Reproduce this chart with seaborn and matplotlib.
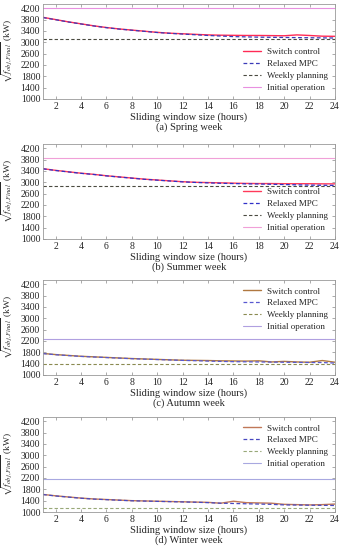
import numpy as np
import pandas as pd
import matplotlib
matplotlib.use("Agg")
import matplotlib.pyplot as plt
import seaborn as sns

hours = list(range(1, 25))

spring_switch = [3880, 3800, 3720, 3650, 3580, 3520, 3470, 3430, 3390, 3350, 3320, 3300,
                 3280, 3260, 3250, 3245, 3240, 3240, 3235, 3230, 3260, 3240, 3215, 3210]
spring_relaxed = [3870, 3795, 3715, 3645, 3575, 3515, 3465, 3425, 3385, 3345, 3315, 3290,
                  3265, 3240, 3220, 3200, 3190, 3180, 3175, 3170, 3165, 3160, 3155, 3150]
spring_weekly = 3130
spring_initial = 4215

summer_switch = [3480, 3420, 3370, 3320, 3280, 3230, 3190, 3150, 3110, 3080, 3050, 3020,
                 3000, 2990, 2980, 2970, 2960, 2955, 2955, 2950, 2950, 2950, 2945, 2945]
summer_relaxed = [3475, 3415, 3365, 3315, 3275, 3225, 3185, 3145, 3105, 3075, 3045, 3015,
                  2995, 2980, 2965, 2955, 2945, 2940, 2930, 2920, 2910, 2900, 2895, 2890]
summer_weekly = 2870
summer_initial = 3860

autumn_switch = [1760, 1720, 1690, 1660, 1640, 1620, 1600, 1580, 1565, 1550, 1535, 1520,
                 1515, 1510, 1500, 1495, 1490, 1500, 1460, 1480, 1460, 1450, 1510, 1450]
autumn_relaxed = [1755, 1715, 1685, 1655, 1635, 1615, 1595, 1575, 1560, 1545, 1530, 1515,
                  1505, 1490, 1480, 1470, 1465, 1460, 1455, 1450, 1445, 1440, 1440, 1420]
autumn_weekly = 1375
autumn_initial = 2280

winter_switch = [1620, 1570, 1530, 1490, 1460, 1440, 1420, 1400, 1390, 1380, 1370, 1360,
                 1350, 1340, 1310, 1380, 1330, 1320, 1310, 1270, 1260, 1250, 1260, 1280]
winter_relaxed = [1615, 1565, 1525, 1485, 1455, 1435, 1415, 1395, 1385, 1375, 1365, 1355,
                  1345, 1330, 1310, 1300, 1290, 1280, 1270, 1250, 1245, 1240, 1235, 1230]
winter_weekly = 1150
winter_initial = 2180

series_names = ["Switch control", "Relaxed MPC", "Weekly planning", "Initial operation"]
captions = ["(a) Spring week", "(b) Summer week", "(c) Autumn week", "(d) Winter week"]
y_ticks = [1000, 1400, 1800, 2200, 2600, 3000, 3400, 3800, 4200]
x_ticks = list(range(2, 25, 2))

panels = [
    (spring_switch, spring_relaxed, spring_weekly, spring_initial),
    (summer_switch, summer_relaxed, summer_weekly, summer_initial),
    (autumn_switch, autumn_relaxed, autumn_weekly, autumn_initial),
    (winter_switch, winter_relaxed, winter_weekly, winter_initial),
]
palettes = [
    ["#ff2a55", "#3a3ab8", "#4a4a40", "#e890e0"],
    ["#ff3a5a", "#3030c8", "#4a4a40", "#f0a0d8"],
    ["#b07840", "#5858d0", "#8a8a50", "#b0a0e0"],
    ["#c07858", "#4848c0", "#98a878", "#a8a8e0"],
]
legend_locs = ["lower right", "lower right", "upper right", "upper right"]

sns.set_style("ticks")
plt.rcParams["font.family"] = ["Liberation Serif", "DejaVu Serif"]
plt.rcParams["mathtext.fontset"] = "stix"

fig = plt.figure(figsize=(3.48, 5.5), dpi=100)
tops = [4, 144, 280, 417]
H = 95
for i, (sw, rx, wk, ini) in enumerate(panels):
    top = tops[i]
    ax = fig.add_axes([43 / 348, 1 - (top + H) / 550, 292 / 348, H / 550])
    df = pd.DataFrame({
        "hours": hours * 4,
        "value": list(sw) + list(rx) + [wk] * 24 + [ini] * 24,
        "series": sum([[n] * 24 for n in series_names], []),
    })
    cols = palettes[i]
    styles = ["-", (0, (3, 2)), (0, (3, 2)), "-"]
    widths = [1.0, 0.9, 0.8, 0.8]
    for j, name in enumerate(series_names):
        sub = df[df["series"] == name]
        sns.lineplot(data=sub, x="hours", y="value", ax=ax, color=cols[j],
                     linestyle=styles[j], linewidth=widths[j], label=name)
    ax.set_xlim(1, 24)
    ax.set_ylim(1000, 4350)
    ax.set_xticks(x_ticks)
    ax.set_yticks(y_ticks)
    ax.tick_params(direction="in", length=2.5, width=0.5, labelsize=7, top=True, right=True,
                   color="#888888", pad=2)
    for s in ax.spines.values():
        s.set_color("#999999")
        s.set_linewidth(0.6)
    ax.set_xlabel("Sliding window size (hours)", fontsize=7.5, labelpad=1.5)
    ax.set_ylabel(r"$\sqrt{f_{obj,Final}}$ (kW)", fontsize=6.8, va="center")
    ax.yaxis.set_label_coords(-0.122, 0.5)
    leg = ax.legend(loc=legend_locs[i], frameon=False, fontsize=6.5, handlelength=2.0,
                    labelspacing=0.4, handletextpad=0.6, borderaxespad=0.4)
    ax.text(0.5, -0.25, captions[i], transform=ax.transAxes, ha="center", va="top",
            fontsize=7.5)

fig.savefig("out.png", dpi=100)
